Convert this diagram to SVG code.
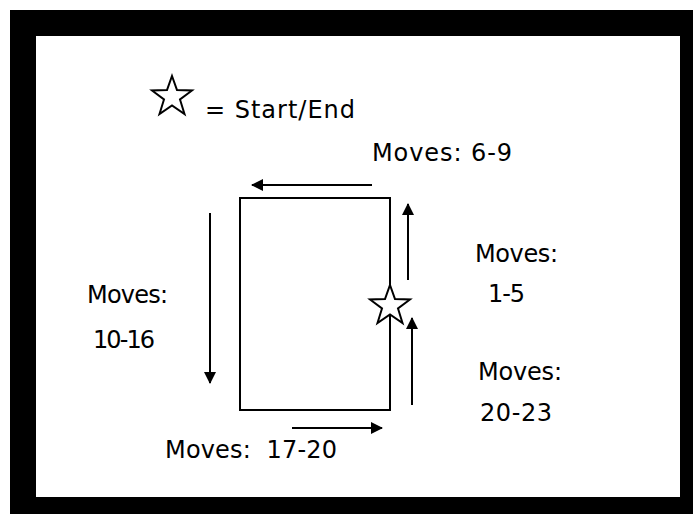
<svg xmlns="http://www.w3.org/2000/svg" width="693" height="514" viewBox="0 0 693 514">
<defs>
<marker id="ah" markerWidth="12" markerHeight="12" viewBox="0 0 12 12" refX="11" refY="6" orient="auto" markerUnits="userSpaceOnUse">
<path d="M0,0 L12,6 L0,12 Z" fill="#000"/>
</marker>
<polygon id="star" points="0,-21 5,-7 20,-6.5 8,2.5 12.5,17 0,8.5 -12.5,17 -8,2.5 -20,-6.5 -5,-7" fill="#fff" stroke="#000" stroke-width="2" stroke-linejoin="miter"/>
</defs>
<style>
text{font-family:"DejaVu Sans","Liberation Sans",sans-serif;font-size:24px;fill:#000}
.c{stroke:#000;stroke-width:2;fill:none}
</style>
<rect x="0" y="0" width="693" height="514" fill="#fff"/>
<rect x="10" y="10" width="683" height="504" fill="#000"/>
<rect x="36" y="36" width="644" height="461" fill="#fff"/>
<g id="legend">
<use href="#star" x="172" y="97"/>
<text x="205" y="118" textLength="150">= Start/End</text>
</g>
<g id="rect">
<rect x="240" y="198" width="150" height="212" class="c"/>
</g>
<g id="start">
<use href="#star" x="390" y="306"/>
</g>
<g id="connectors">
<line x1="372" y1="185" x2="252" y2="185" class="c" marker-end="url(#ah)"/>
<line x1="408" y1="280" x2="408" y2="204" class="c" marker-end="url(#ah)"/>
<line x1="412" y1="405" x2="412" y2="318" class="c" marker-end="url(#ah)"/>
<line x1="210" y1="213" x2="210" y2="383" class="c" marker-end="url(#ah)"/>
<line x1="292" y1="428" x2="382" y2="428" class="c" marker-end="url(#ah)"/>
</g>
<g id="labels">
<text x="372" y="161" textLength="140">Moves: 6-9</text>
<text x="475" y="262" textLength="83">Moves:</text>
<text x="488" y="302" textLength="37">1-5</text>
<text x="478" y="380" textLength="84">Moves:</text>
<text x="480" y="421" textLength="72">20-23</text>
<text x="87" y="303" textLength="81">Moves:</text>
<text x="93" y="348" textLength="62">10-16</text>
<text x="165" y="458" textLength="172" xml:space="preserve">Moves:  17-20</text>
</g>
</svg>
